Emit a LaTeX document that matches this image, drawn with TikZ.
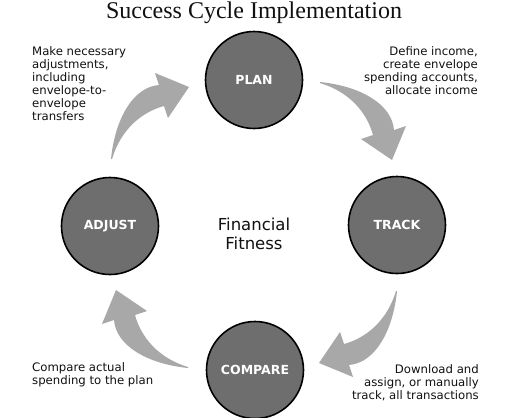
\documentclass[tikz,border=0pt]{standalone}
\usepackage{fontspec}
\newfontfamily\labfont{DejaVu Sans}
\newfontfamily\titlefont{Liberation Serif}
\definecolor{circfill}{HTML}{6E6E6E}
\definecolor{arrowgray}{HTML}{A8A8A8}
\definecolor{txt}{HTML}{111111}
\tikzset{
  stage/.style={circle, draw=black, line width=1.6pt, fill=circfill, minimum size=97pt, inner sep=0pt,
    text=white, font=\labfont\bfseries\fontsize{12.5}{14}\selectfont},
  note/.style={inner sep=0pt, text=txt, font=\labfont\fontsize{11.7}{13}\selectfont},
  bigarrow/.style={fill=arrowgray, draw=none}
}
\begin{document}
\begin{tikzpicture}[x=1pt,y=-1pt]
\useasboundingbox (0,0) rectangle (507,418);
\clip (0,0) rectangle (507,418);
\fill[white] (0,0) rectangle (507,418);
% title
\node[anchor=base, inner sep=0pt, text=txt, font=\titlefont\fontsize{24}{28}\selectfont] (title) at (254,18.5) {Success Cycle Implementation};
% curved arrows
\foreach \ang in {0,-90,-180,-270}{
  \fill[bigarrow, rotate around={\ang:(254,225)}]
    (320,82) .. controls (360,86) and (392,104) .. (394,130)
    -- (406,126) -- (392,160) -- (361,139) -- (373,135)
    .. controls (367,113) and (350,92) .. (320,83) -- cycle;
}
% stages
\node[stage] (plan) at (254,80) {PLAN};
\node[stage] (track) at (397,225) {TRACK};
\node[stage] (compare) at (255,370) {COMPARE};
\node[stage] (adjust) at (110,226) {ADJUST};
% centre
\node[inner sep=0pt, text=txt, align=center, font=\labfont\fontsize{16.5}{19.5}\selectfont] (centre) at (254,234) {Financial\\Fitness};
% notes
\node[note, anchor=north west, align=left] (n1) at (32,46.2) {Make necessary\\adjustments,\\including\\envelope-to-\\envelope\\transfers};
\node[note, anchor=north east, align=right] (n2) at (478,46.2) {Define income,\\create envelope\\spending accounts,\\allocate income};
\node[note, anchor=north west, align=left] (n3) at (32,362.2) {Compare actual\\spending to the plan};
\node[note, anchor=north east, align=right] (n4) at (479,364.2) {Download and\\assign, or manually\\track, all transactions};
\end{tikzpicture}
\end{document}
